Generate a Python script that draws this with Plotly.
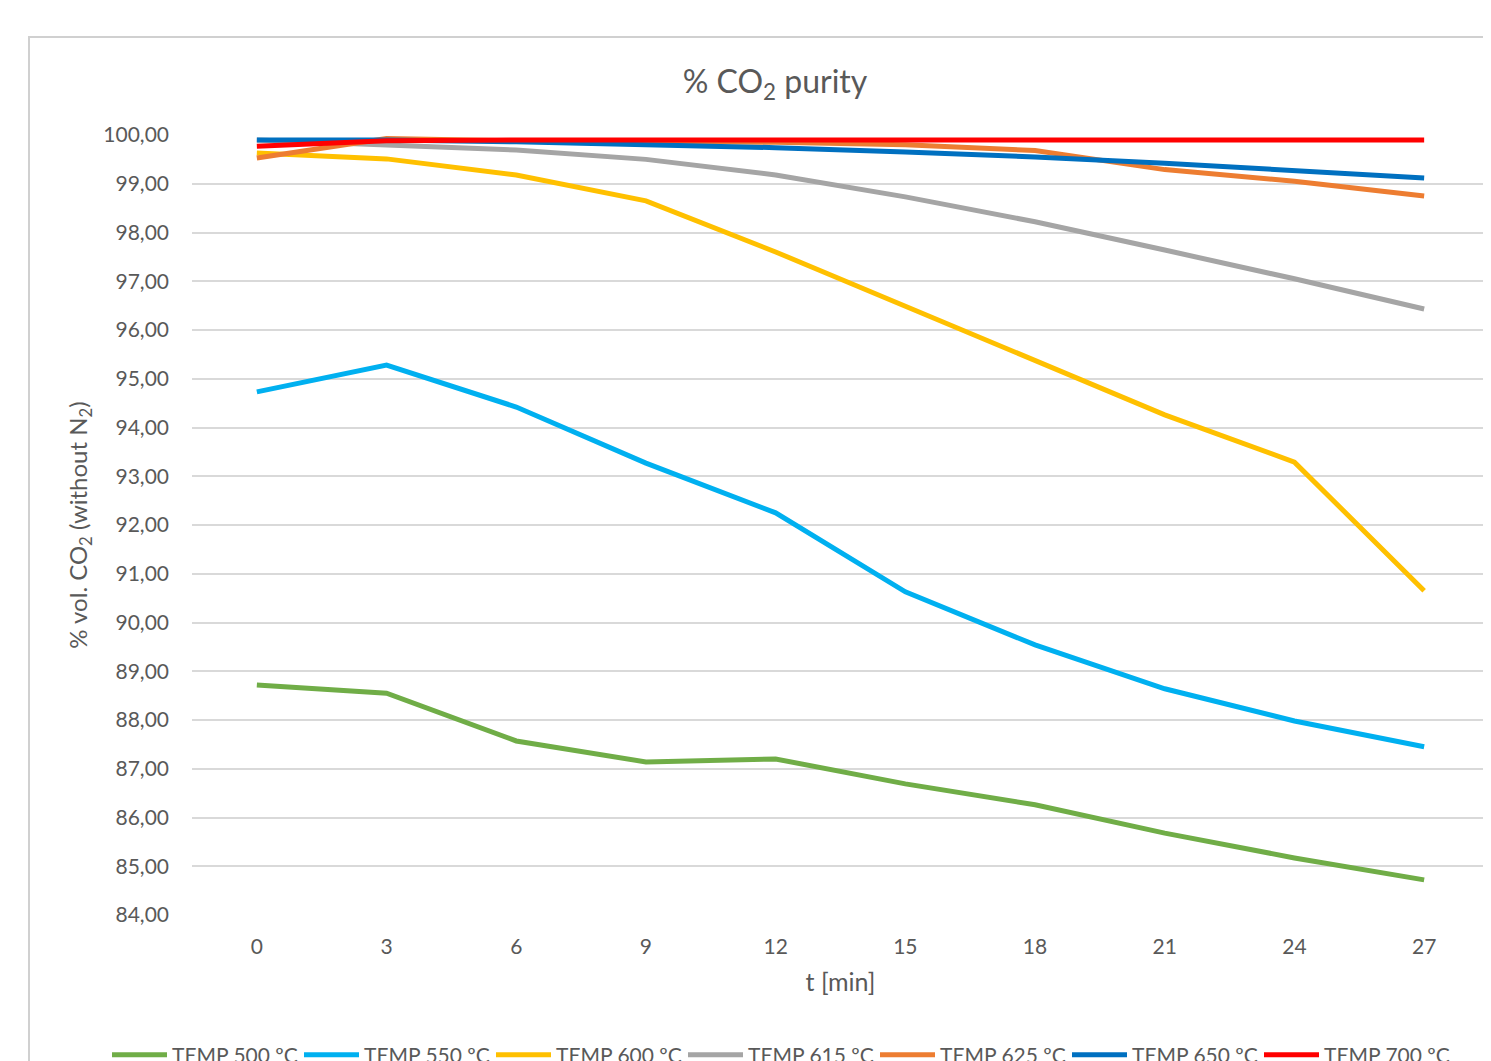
import plotly.graph_objects as go

t_min = ["0", "3", "6", "9", "12", "15", "18", "21", "24", "27"]

temp_500 = [88.72, 88.55, 87.57, 87.14, 87.20, 86.69, 86.26, 85.68, 85.17, 84.72]
temp_550 = [94.73, 95.28, 94.42, 93.27, 92.25, 90.63, 89.54, 88.64, 87.98, 87.45]
temp_600 = [99.63, 99.51, 99.18, 98.65, 97.60, 96.49, 95.38, 94.26, 93.29, 90.65]
temp_615 = [99.90, 99.80, 99.69, 99.50, 99.18, 98.73, 98.22, 97.64, 97.05, 96.43]
temp_625 = [99.53, 99.93, 99.88, 99.87, 99.85, 99.80, 99.68, 99.29, 99.05, 98.75]
temp_650 = [99.90, 99.90, 99.86, 99.80, 99.74, 99.65, 99.55, 99.42, 99.28, 99.12]
temp_700 = [99.77, 99.88, 99.90, 99.90, 99.90, 99.90, 99.90, 99.90, 99.90, 99.90]

series_names = ["TEMP 500 ºC", "TEMP 550 ºC", "TEMP 600 ºC", "TEMP 615 ºC",
                "TEMP 625 ºC", "TEMP 650 ºC", "TEMP 700 ºC"]
series_values = [temp_500, temp_550, temp_600, temp_615, temp_625, temp_650, temp_700]
series_colors = ["#70AD47", "#00B0F0", "#FFC000", "#A5A5A5", "#ED7D31", "#0070C0", "#FF0000"]

y_ticks = [84 + i for i in range(17)]

FONT = "Lato, 'Open Sans', sans-serif"
GRAY = "#595959"

# page has an 8px body margin; figure coordinates below are page coords minus 8.
# The figure is made large enough to run past the window edges (like the reference crop).
OFF = 8
W, H = 1491, 1061
L, T = 192 - OFF, 135 - OFF
R = W - (1489 - OFF)
B = H - (915 - OFF)
pw, ph = W - L - R, H - T - B

legend_line_starts = [111, 303, 495, 687, 879, 1071, 1263]

fig = go.Figure()
layout_legends = {}
for i, (name, vals, col) in enumerate(zip(series_names, series_values, series_colors)):
    key = "legend" if i == 0 else f"legend{i + 1}"
    fig.add_trace(go.Scatter(x=t_min, y=vals, name=name, mode="lines",
                             line=dict(color=col, width=5), legend=key))
    layout_legends[key] = dict(
        orientation="h", x=(legend_line_starts[i] - 4 - L - OFF) / pw, xanchor="left",
        y=(915 - 1055) / ph, yanchor="middle",
        font=dict(size=21, color=GRAY, family=FONT), itemwidth=55,
        bgcolor="rgba(0,0,0,0)", borderwidth=0, tracegroupgap=0)

fig.update_layout(
    width=W, height=H,
    margin=dict(l=L, r=R, t=T, b=B, autoexpand=False),
    paper_bgcolor="white", plot_bgcolor="white",
    separators=",.",
    font=dict(family=FONT, color=GRAY, size=21),
    title=dict(text="% CO<sub>2</sub> purity", x=(775 - OFF) / W, xanchor="center",
               y=1 - (82 - OFF) / H, yanchor="middle",
               font=dict(family=FONT, size=32, color=GRAY)),
    xaxis=dict(type="category", range=[-0.5, 9.5], showgrid=False, showline=False,
               ticks="", ticklabelstandoff=17, automargin=False,
               tickfont=dict(size=21, color=GRAY),
               title=dict(text="t [min]", font=dict(size=25, color=GRAY), standoff=16)),
    yaxis=dict(range=[84, 100], tickvals=y_ticks, tickformat=".2f",
               showgrid=True, gridcolor="#D9D9D9", gridwidth=1.5, zeroline=False,
               showline=False, ticks="", ticklabelstandoff=22, automargin=False,
               tickfont=dict(size=21, color=GRAY),
               title=dict(text="% vol. CO<sub>2</sub> (without N<sub>2</sub>)",
                          font=dict(size=24, color=GRAY), standoff=8)),
    showlegend=True,
    **layout_legends,
)

fig.add_shape(type="rect", xref="paper", yref="paper",
              x0=(29 - OFF - L) / pw, x1=1.2, y0=-0.5, y1=(915 - 37) / ph,
              line=dict(color="#D0D0D0", width=2), fillcolor="rgba(0,0,0,0)",
              layer="below")

fig.write_html("out.html")
